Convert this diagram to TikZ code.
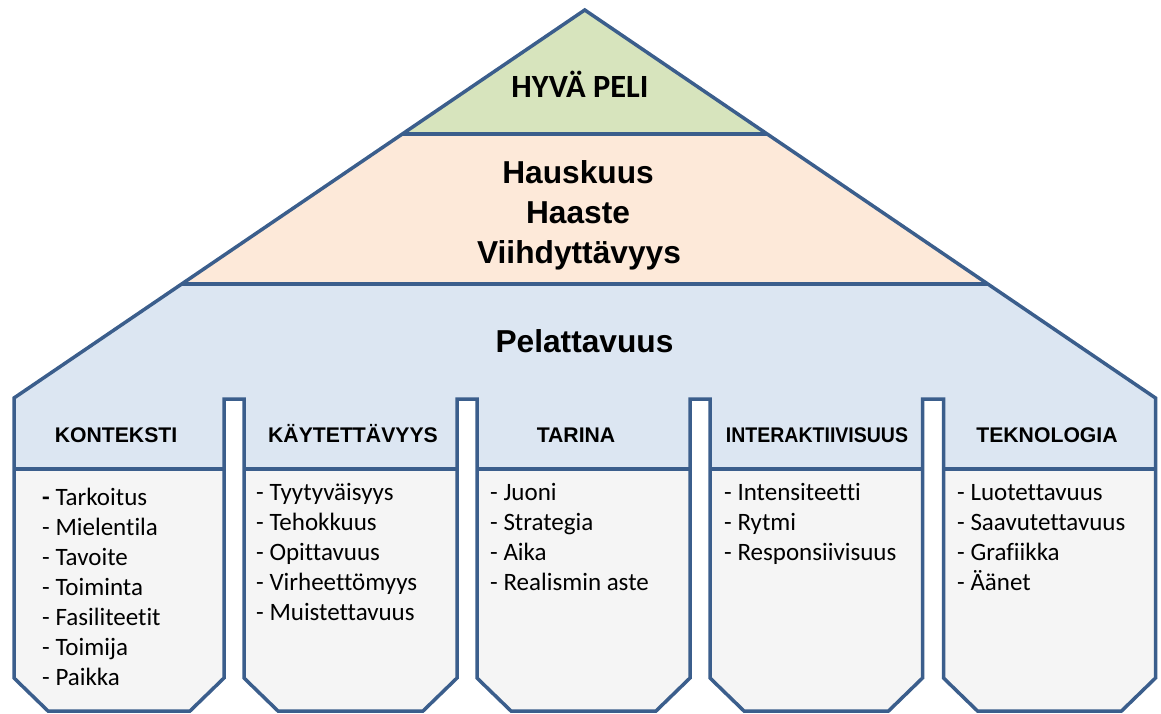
\documentclass[tikz,border=0pt]{standalone}
\usepackage{fontspec}
\setmainfont{Carlito}[Ligatures=NoCommon]
\newfontfamily\arialf{Liberation Sans}
\definecolor{lineblue}{HTML}{3B5E8C}
\definecolor{topgreen}{HTML}{D7E4BD}
\definecolor{midorange}{HTML}{FDE9D9}
\definecolor{roofblue}{HTML}{DCE6F2}
\definecolor{bodygray}{HTML}{F5F5F5}
\tikzset{
  outl/.style={draw=lineblue, line width=3.5pt, line join=miter},
  sepline/.style={draw=lineblue, line width=3.5pt},
  bigtxt/.style={anchor=base, inner sep=0pt, font=\arialf\bfseries\fontsize{31.7}{38}\selectfont},
  toptxt/.style={anchor=base, inner sep=0pt, font=\bfseries\fontsize{32.4}{38}\selectfont},
  headtxt/.style={anchor=base, inner sep=0pt, font=\arialf\bfseries\fontsize{21.2}{25}\selectfont},
  itemtxt/.style={anchor=base west, inner sep=0pt, font=\fontsize{25}{30}\selectfont},
}
\def\houseoutline{(584.75,10) -- (14,398) -- (14,678) -- (48,711) -- (190,711) -- (224,678) -- (224,399) -- (244,399) -- (244,678) -- (278,711) -- (423,711) -- (457,678) -- (457,399) -- (477,399) -- (477,678) -- (511,711) -- (656,711) -- (690,678) -- (690,399) -- (710,399) -- (710,678) -- (744,711) -- (888.5,711) -- (922.5,678) -- (922.5,399) -- (943.5,399) -- (943.5,678) -- (977.5,711) -- (1121.5,711) -- (1155.5,678) -- (1155.5,398) -- cycle}
\begin{document}
\begin{tikzpicture}[x=1pt,y=-1pt]
\useasboundingbox (0,0) rectangle (1161,714);
% fills
\fill[bodygray] \houseoutline;
\begin{scope}
  \clip \houseoutline;
  \fill[roofblue] (0,0) rectangle (1161,469);
  \fill[midorange] (0,0) rectangle (1161,284);
  \fill[topgreen] (0,0) rectangle (1161,134);
  \draw[sepline] (0,134) -- (1161,134);
  \draw[sepline] (0,284) -- (1161,284);
  \draw[sepline] (0,469) -- (1161,469);
\end{scope}
\draw[outl] \houseoutline;

% top texts
\node[toptxt] (hyva) at (580,98) {HYVÄ PELI};
\node[bigtxt] (hausk) at (578,183) {Hauskuus};
\node[bigtxt] (haaste) at (578,223) {Haaste};
\node[bigtxt] (viihd) at (579,263) {Viihdyttävyys};
\node[bigtxt] (pelat) at (584.5,352) {Pelattavuus};

% headers
\node[headtxt] (h1) at (116,442) {KONTEKSTI};
\node[headtxt] (h2) at (353,442) {KÄYTETTÄVYYS};
\node[headtxt] (h3) at (576,442) {TARINA};
\node[headtxt] (h4) at (817,442) {\scalebox{0.92}[1]{INTERAKTIIVISUUS}};
\node[headtxt] (h5) at (1047,442) {TEKNOLOGIA};

% column 1
\node[itemtxt] (c1a) at (42,505) {\textbf{-} Tarkoitus};
\node[itemtxt] (c1b) at (42,535) {- Mielentila};
\node[itemtxt] (c1c) at (42,565) {- Tavoite};
\node[itemtxt] (c1d) at (42,595) {- Toiminta};
\node[itemtxt] (c1e) at (42,625) {- Fasiliteetit};
\node[itemtxt] (c1f) at (42,655) {- Toimija};
\node[itemtxt] (c1g) at (42,685) {- Paikka};
% column 2
\node[itemtxt] (c2a) at (256,500) {- Tyytyväisyys};
\node[itemtxt] (c2b) at (256,530) {- Tehokkuus};
\node[itemtxt] (c2c) at (256,560) {- Opittavuus};
\node[itemtxt] (c2d) at (256,590) {- Virheettömyys};
\node[itemtxt] (c2e) at (256,620) {- Muistettavuus};
% column 3
\node[itemtxt] (c3a) at (490,500) {- Juoni};
\node[itemtxt] (c3b) at (490,530) {- Strategia};
\node[itemtxt] (c3c) at (490,560) {- Aika};
\node[itemtxt] (c3d) at (490,590) {- Realismin aste};
% column 4
\node[itemtxt] (c4a) at (724,500) {- Intensiteetti};
\node[itemtxt] (c4b) at (724,530) {- Rytmi};
\node[itemtxt] (c4c) at (724,560) {- Responsiivisuus};
% column 5
\node[itemtxt] (c5a) at (957,500) {- Luotettavuus};
\node[itemtxt] (c5b) at (957,530) {- Saavutettavuus};
\node[itemtxt] (c5c) at (957,560) {- Grafiikka};
\node[itemtxt] (c5d) at (957,590) {- Äänet};
\end{tikzpicture}
\end{document}
